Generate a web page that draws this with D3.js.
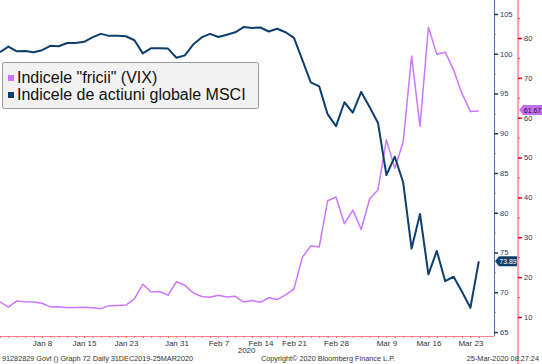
<!DOCTYPE html>
<html><head><meta charset="utf-8">
<script src="https://cdn.jsdelivr.net/npm/d3@7"></script>
<style>
html,body{margin:0;padding:0;background:#fff;}
svg{display:block;font-family:"Liberation Sans",Arial,sans-serif;}
</style></head>
<body><svg id="c" width="542" height="364"></svg>
<script>
const dates = ["2019-12-31","2020-01-02","2020-01-03","2020-01-06","2020-01-07","2020-01-08","2020-01-09","2020-01-10",
"2020-01-13","2020-01-14","2020-01-15","2020-01-16","2020-01-17","2020-01-21","2020-01-22","2020-01-23","2020-01-24",
"2020-01-27","2020-01-28","2020-01-29","2020-01-30","2020-01-31","2020-02-03","2020-02-04","2020-02-05","2020-02-06",
"2020-02-07","2020-02-10","2020-02-11","2020-02-12","2020-02-13","2020-02-14","2020-02-18","2020-02-19","2020-02-20",
"2020-02-21","2020-02-24","2020-02-25","2020-02-26","2020-02-27","2020-02-28","2020-03-02","2020-03-03","2020-03-04",
"2020-03-05","2020-03-06","2020-03-09","2020-03-10","2020-03-11","2020-03-12","2020-03-13","2020-03-16","2020-03-17",
"2020-03-18","2020-03-19","2020-03-20","2020-03-23","2020-03-24"];
const vix = [13.78,12.47,14.02,13.85,13.79,13.45,12.54,12.56,12.32,12.39,12.42,12.32,12.10,12.85,12.91,12.98,14.56,
18.23,16.28,16.39,15.49,18.84,17.97,16.05,15.15,14.96,15.47,15.04,15.18,13.74,14.15,13.68,14.83,14.38,15.56,
17.08,25.03,27.85,27.56,39.16,40.11,33.42,36.82,31.99,39.62,41.94,54.46,47.30,53.90,75.47,57.83,82.69,75.91,
76.45,72.00,66.04,61.59,61.67];
const msci = [100.2,100.9,100.3,100.35,100.2,100.45,101.0,100.95,101.35,101.35,101.5,102.05,102.5,102.25,102.25,102.2,
101.7,100.05,100.7,100.7,100.65,99.5,99.8,101.15,102.05,102.5,102.1,102.4,102.7,103.35,103.25,103.3,102.8,103.15,
102.7,102.0,99.2,96.4,95.9,92.4,90.9,93.9,92.6,95.2,93.3,91.3,84.75,87.05,83.8,75.5,79.85,72.25,75.2,71.4,71.95,
70.05,68.05,73.89];
const tickDates = ["2020-01-08","2020-01-15","2020-01-23","2020-01-31","2020-02-07","2020-02-14","2020-02-21",
"2020-02-28","2020-03-09","2020-03-16","2020-03-23"];
const tickLabels = ["Jan 8","Jan 15","Jan 23","Jan 31","Feb 7","Feb 14","Feb 21","Feb 28","Mar 9","Mar 16","Mar 23"];
const msciTicks = [65,70,75,80,85,90,95,100,105];
const msciMinor = [67.5,72.5,77.5,82.5,87.5,92.5,97.5,102.5];
const vixTicks = [10,20,30,40,50,60,70,80];
const vixMinor = [15,25,35,45,55,65,75,85];
const seriesNames = ["Indicele \"fricii\" (VIX)","Indicele de actiuni globale MSCI"];
const footerLeft = "91282829 Govt () Graph 72  Daily 31DEC2019-25MAR2020";
const footerMid = "Copyright\u00a9 2020 Bloomberg Finance L.P.";
const footerRight = "25-Mar-2020 08:27:24";
const yearLabel = "2020";

const cM = "#0d3f6e", cV = "#cc77ff";
const svg = d3.select("#c");
const x = d3.scalePoint(dates, [0, 478.8]);
const yM = d3.scaleLinear([65,105],[332,14]);
const yV = d3.scaleLinear([10,80],[317,38]);
const axM = 494, axV = 518, axB = 336;

// lines
svg.append("path").attr("d", d3.line().x((d,i)=>x(dates[i])).y(d=>yV(d))(vix))
  .attr("fill","none").attr("stroke",cV).attr("stroke-width",1.5).attr("stroke-linejoin","round");
svg.append("path").attr("d", d3.line().x((d,i)=>x(dates[i])).y(d=>yM(d))(msci))
  .attr("fill","none").attr("stroke",cM).attr("stroke-width",2).attr("stroke-linejoin","round");

// bottom axis
svg.append("line").attr("x1",0).attr("x2",axM).attr("y1",axB+0.5).attr("y2",axB+0.5).attr("stroke","#ff7f8f");
const gx = svg.append("g").attr("transform",`translate(0,${axB})`)
  .call(d3.axisBottom(x).tickValues(dates).tickSize(2).tickFormat(""));
gx.select(".domain").remove();
gx.selectAll(".tick line").attr("stroke","#ff6070");
const gx2 = svg.append("g").attr("transform",`translate(0,${axB})`)
  .call(d3.axisBottom(x).tickValues(tickDates).tickSize(0).tickPadding(4).tickFormat((d,i)=>tickLabels[i]));
gx2.select(".domain").remove();
gx2.selectAll("text").attr("font-size",8).attr("fill","#333");
svg.append("text").attr("x",x("2020-02-12")+3).attr("y",353).attr("text-anchor","middle")
  .attr("font-size",8).attr("fill","#333").text(yearLabel);

// MSCI axis
svg.append("line").attr("x1",axM+0.5).attr("x2",axM+0.5).attr("y1",0).attr("y2",axB).attr("stroke","#4a78a6");
const gm = svg.append("g").attr("transform",`translate(${axM},0)`)
  .call(d3.axisRight(yM).tickValues(msciTicks).tickSize(4).tickPadding(2));
gm.select(".domain").remove();
gm.selectAll(".tick line").attr("stroke",cM).attr("stroke-width",1.5);
gm.selectAll("text").attr("font-size",7.5).attr("fill","#1d3f66");
const gmm = svg.append("g").attr("transform",`translate(${axM},0)`)
  .call(d3.axisRight(yM).tickValues(msciMinor).tickSize(2).tickFormat(""));
gmm.select(".domain").remove();
gmm.selectAll(".tick line").attr("stroke","#6a90b8");

// VIX axis
svg.append("line").attr("x1",axV).attr("x2",axV).attr("y1",0).attr("y2",364).attr("stroke","#ffa3ad").attr("stroke-width",2);
const gv = svg.append("g").attr("transform",`translate(${axV},0)`)
  .call(d3.axisRight(yV).tickValues(vixTicks).tickSize(4).tickPadding(2));
gv.select(".domain").remove();
gv.selectAll(".tick line").attr("stroke","#e8001c").attr("stroke-width",1.5);
gv.selectAll("text").attr("font-size",7.5).attr("fill","#333");
const gvm = svg.append("g").attr("transform",`translate(${axV},0)`)
  .call(d3.axisRight(yV).tickValues(vixMinor).tickSize(2).tickFormat(""));
gvm.select(".domain").remove();
gvm.selectAll(".tick line").attr("stroke","#ff4050");

// value tags
function tag(x0, yc, w, fill, txtCol, label){
  const h = 10;
  const g = svg.append("g");
  g.append("path").attr("d",`M${x0},${yc} L${x0+4},${yc-h/2} L${x0+w},${yc-h/2} L${x0+w},${yc+h/2} L${x0+4},${yc+h/2} Z`)
    .attr("fill",fill);
  g.append("text").attr("x",x0+4+(w-4)/2).attr("y",yc+2.5).attr("text-anchor","middle")
    .attr("font-size",7).attr("fill",txtCol).text(label);
}
const lastM = msci[msci.length-1], lastV = vix[vix.length-1];
tag(axM+1, yM(lastM), 22, cM, "#fff", lastM.toFixed(2));
tag(axV+1, yV(lastV) - 1, 23, "#c070f0", "#2a0a3a", lastV.toFixed(2));

// legend
const lg = svg.append("g");
lg.append("rect").attr("x",2.5).attr("y",62.5).attr("width",256).attr("height",46).attr("rx",2)
  .attr("fill","#f2f2f2").attr("stroke","#999");
[[cV,0],[cM,1]].forEach(([c,i])=>{
  lg.append("rect").attr("x",8).attr("y",75+i*17).attr("width",6).attr("height",6).attr("fill",c);
  lg.append("text").attr("x",17).attr("y",83+i*17).attr("font-size",16).attr("fill","#111").text(seriesNames[i]);
});

// footer
svg.append("text").attr("x",2).attr("y",361).attr("font-size",7.3).attr("fill","#333")
  .attr("textLength",191).attr("lengthAdjust","spacingAndGlyphs").text(footerLeft);
svg.append("text").attr("x",328).attr("y",361).attr("text-anchor","middle").attr("font-size",7.3).attr("fill","#333").text(footerMid);
svg.append("text").attr("x",539).attr("y",361).attr("text-anchor","end").attr("font-size",7.3).attr("fill","#333").text(footerRight);
</script></body></html>
